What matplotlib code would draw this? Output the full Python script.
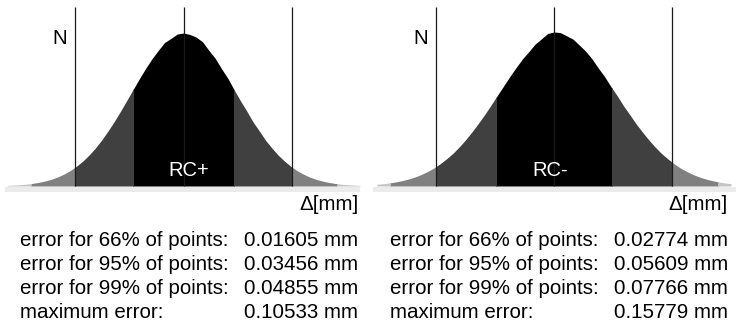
import matplotlib
matplotlib.use("Agg")
import matplotlib.pyplot as plt
from matplotlib.patches import Rectangle
import numpy as np

plt.rcParams['font.family'] = ['Liberation Sans', 'DejaVu Sans']

# ---------------- data ----------------
# RC+ histogram (Delta in mm, relative counts N)
rcp_x = [-0.056, -0.054, -0.052, -0.050, -0.048, -0.046, -0.044, -0.042, -0.040, -0.038,
         -0.036, -0.034, -0.032, -0.030, -0.028, -0.026, -0.024, -0.022, -0.020, -0.018,
         -0.016, -0.014, -0.012, -0.010, -0.008, -0.006, -0.004, -0.002, 0.000, 0.002,
         0.004, 0.006, 0.008, 0.010, 0.012, 0.014, 0.016, 0.018, 0.020, 0.022,
         0.024, 0.026, 0.028, 0.030, 0.032, 0.034, 0.036, 0.038, 0.040, 0.042,
         0.044, 0.046, 0.048, 0.050, 0.052, 0.054, 0.056]
rcp_n = [0.6, 0.9, 1.3, 1.8, 2.6, 3.6, 5.0, 6.7, 9.0, 11.9,
         15.4, 19.8, 24.9, 31.0, 38.0, 46.0, 55.0, 64.6, 74.9, 85.8,
         96.7, 107.5, 117.9, 127.4, 135.8, 143.6, 147.6, 152.0, 153.0, 151.5,
         148.9, 144.2, 135.7, 127.8, 117.5, 107.9, 96.4, 85.5, 75.2, 64.3,
         55.2, 45.8, 38.1, 30.9, 25.0, 19.7, 15.4, 11.9, 9.0, 6.7,
         5.0, 3.6, 2.6, 1.8, 1.3, 0.9, 0.6]
rcp_p66, rcp_p95, rcp_p99, rcp_max = 0.01605, 0.03456, 0.04855, 0.10533

# RC- histogram
rcm_x = [-0.084, -0.081, -0.078, -0.075, -0.072, -0.069, -0.066, -0.063, -0.060, -0.057,
         -0.054, -0.051, -0.048, -0.045, -0.042, -0.039, -0.036, -0.033, -0.030, -0.027,
         -0.024, -0.021, -0.018, -0.015, -0.012, -0.009, -0.006, -0.003, 0.000, 0.003,
         0.006, 0.009, 0.012, 0.015, 0.018, 0.021, 0.024, 0.027, 0.030, 0.033,
         0.036, 0.039, 0.042, 0.045, 0.048, 0.051, 0.054, 0.057, 0.060, 0.063,
         0.066, 0.069, 0.072, 0.075, 0.078, 0.081, 0.084]
rcm_n = [1.7, 2.3, 3.1, 4.1, 5.4, 7.0, 9.0, 11.5, 14.5, 18.0,
         22.3, 27.2, 32.6, 39.0, 46.1, 53.9, 62.3, 71.1, 80.5, 90.1,
         99.7, 109.3, 118.4, 127.0, 134.2, 141.8, 147.1, 152.5, 154.0, 153.4,
         150.2, 146.9, 141.0, 134.9, 127.3, 118.1, 109.5, 99.5, 90.3, 80.2,
         71.3, 62.1, 53.9, 46.1, 39.0, 32.6, 27.2, 22.3, 18.0, 14.5,
         11.5, 9.0, 7.0, 5.4, 4.1, 3.1, 2.3]
rcm_p66, rcm_p95, rcm_p99, rcm_max = 0.02774, 0.05609, 0.07766, 0.15779

labels = ["RC+", "RC-"]
row_labels = ["error for 66% of points:", "error for 95% of points:",
              "error for 99% of points:", "maximum error:"]

# ---------------- figure ----------------
W, H = 736, 328
fig = plt.figure(figsize=(W / 100, H / 100), dpi=100)

def px_axes(x0, y0, x1, y1):
    return fig.add_axes([x0 / W, 1 - y1 / H, (x1 - x0) / W, (y1 - y0) / H])

TOP = 179.0
BOT = -6.0
band_colors = ["#000000", "#404040", "#808080", "#c4c4c4"]

def draw_panel(ax, x, n, p66, p95, p99, xlim, label, lx):
    ax.set_xlim(*xlim)
    ax.set_ylim(BOT, TOP)
    ax.axis("off")
    # baseline band
    ax.add_patch(Rectangle((xlim[0], BOT + 0.3), xlim[1] - xlim[0], -BOT - 0.8,
                           facecolor="#ebebeb", edgecolor="none", zorder=0))
    edges = [(-p66, p66, band_colors[0]),
             (-p95, -p66, band_colors[1]), (p66, p95, band_colors[1]),
             (-p99, -p95, band_colors[2]), (p95, p99, band_colors[2]),
             (xlim[0], -p99, band_colors[3]), (p99, xlim[1], band_colors[3])]
    for lo, hi, c in edges:
        poly = ax.fill_between(x, 0, n, color=c, linewidth=0, zorder=2)
        clip = Rectangle((lo, 0), hi - lo, TOP, transform=ax.transData)
        poly.set_clip_path(clip)
    for xv in (-p95, 0.0, p95):
        ax.plot([xv, xv], [0, TOP], color="#1a1a1a", lw=0.9, zorder=3,
                solid_capstyle="butt")
    ax.text(lx, 15, label, color="white", fontsize=14.5, ha="center",
            va="center", zorder=4)

ax1 = px_axes(5, 7, 360, 192)
draw_panel(ax1, rcp_x, rcp_n, rcp_p66, rcp_p95, rcp_p99, (-0.0567, 0.0560),
           labels[0], 0.0015)
ax2 = px_axes(373, 7, 736, 192)
draw_panel(ax2, rcm_x, rcm_n, rcm_p66, rcm_p95, rcm_p99, (-0.0859, 0.0864),
           labels[1], -0.002)

def ftext(x, y, s, **kw):
    fig.text(x / W, 1 - y / H, s, **kw)

FS = 14.8
ftext(60, 38, "N", fontsize=FS, ha="center", va="center")
ftext(421, 38, "N", fontsize=FS, ha="center", va="center")
ftext(359, 205, "\u0394[mm]", fontsize=FS, ha="right", va="center")
ftext(728, 205, "\u0394[mm]", fontsize=FS, ha="right", va="center")

vals_l = [rcp_p66, rcp_p95, rcp_p99, rcp_max]
vals_r = [rcm_p66, rcm_p95, rcm_p99, rcm_max]
rows_y = [240, 264, 288, 312]
for i, yy in enumerate(rows_y):
    ftext(20, yy, row_labels[i], fontsize=FS, ha="left", va="center")
    ftext(358, yy, f"{vals_l[i]:.5f} mm", fontsize=FS, ha="right", va="center")
    ftext(390, yy, row_labels[i], fontsize=FS, ha="left", va="center")
    ftext(728, yy, f"{vals_r[i]:.5f} mm", fontsize=FS, ha="right", va="center")

fig.savefig("out.png", dpi=100)
